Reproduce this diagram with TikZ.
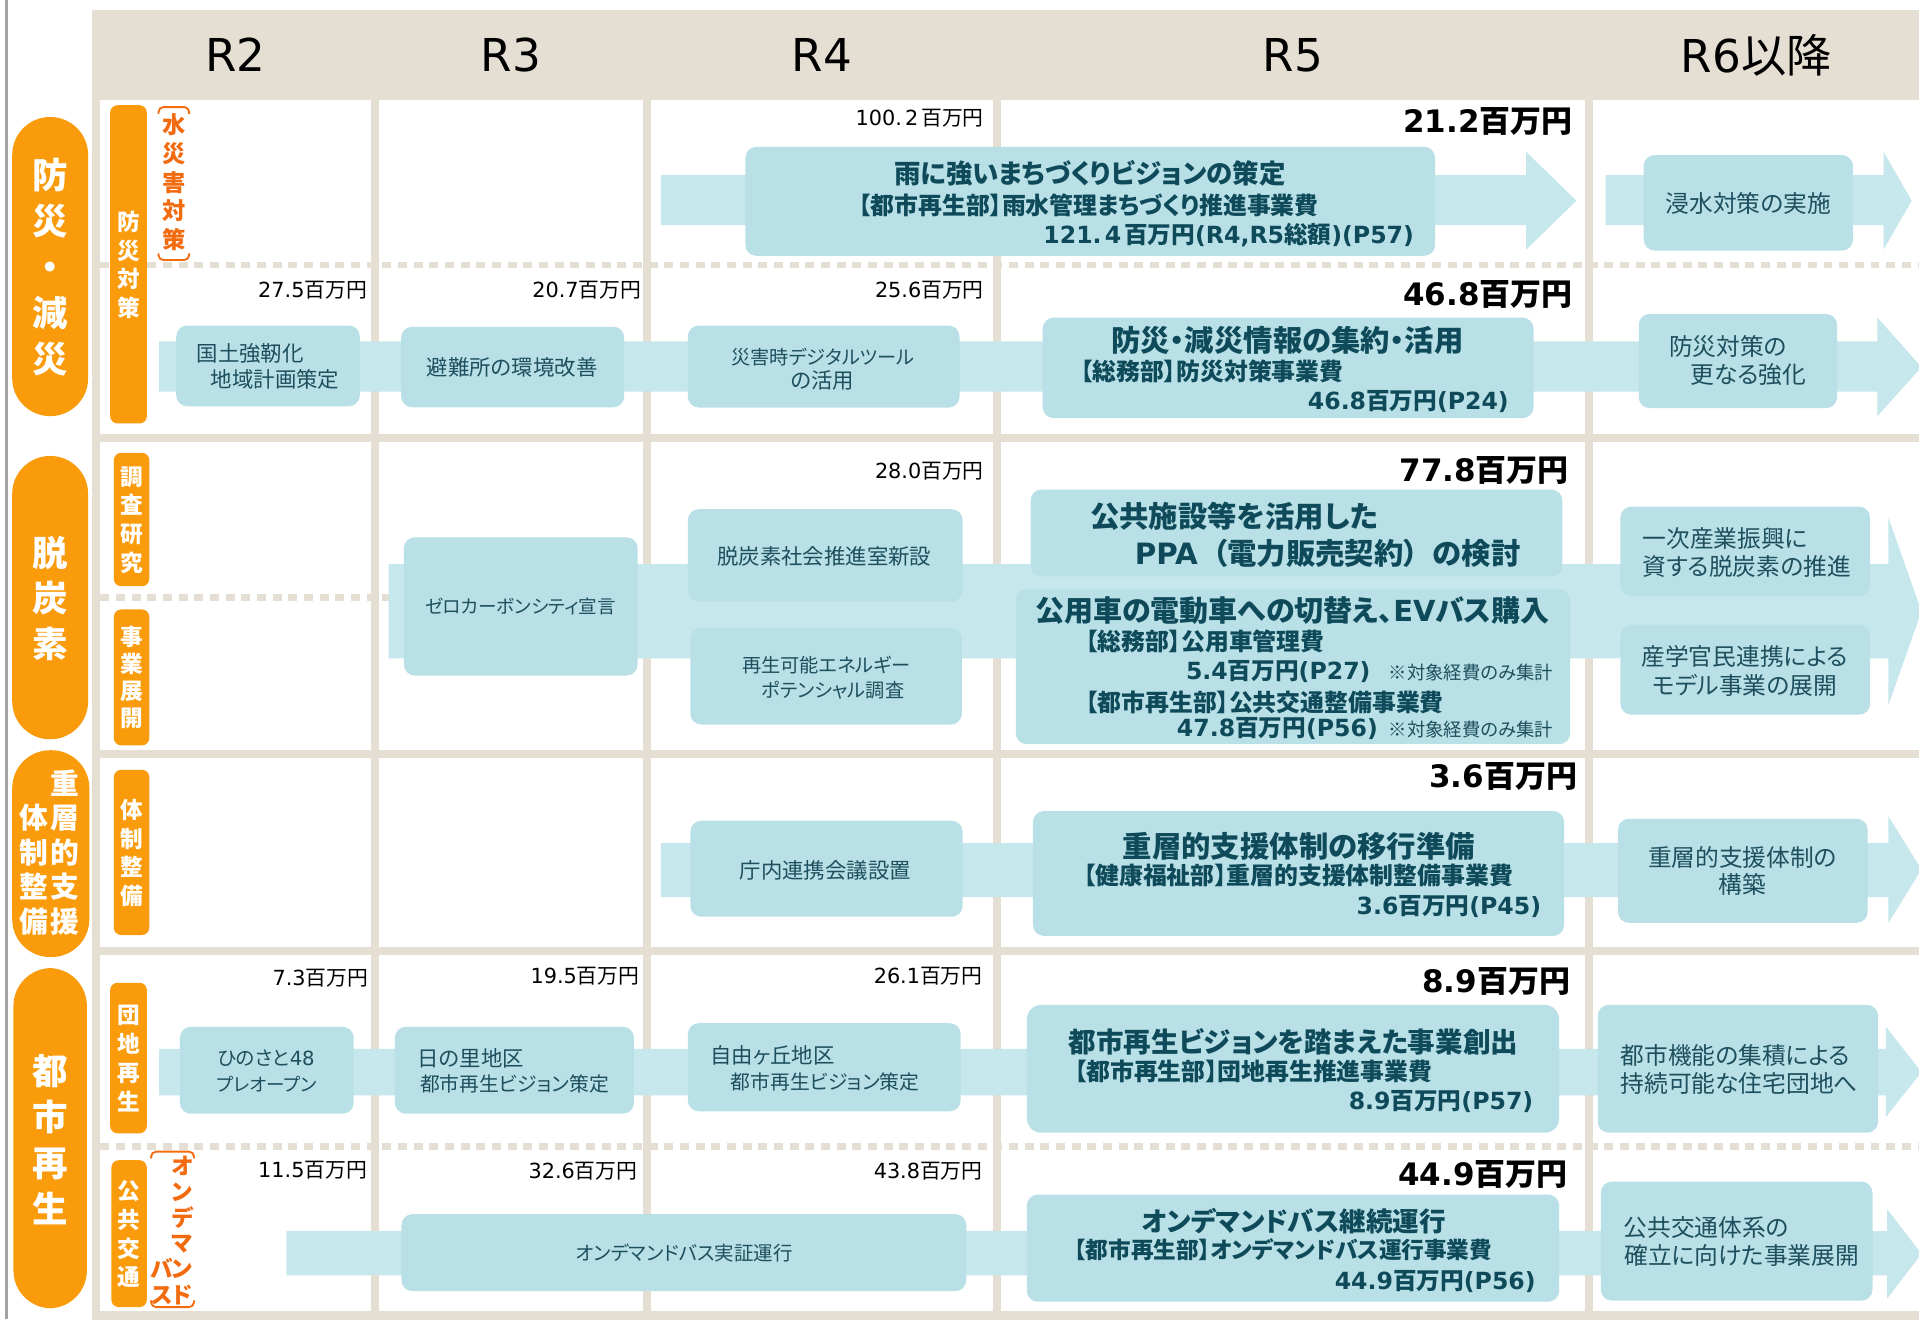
\documentclass[tikz,border=0pt]{standalone}
\usepackage{fontspec}
\setmainfont{Noto Sans CJK JP}[RawFeature=+palt]
\newfontfamily\latf{DejaVu Sans}
\newcommand\LT[1]{{\latf #1}}
\newcommand\myfs[2]{\fontsize{#1}{#2}\selectfont}
\definecolor{beige}{HTML}{E4DED3}
\definecolor{orng}{HTML}{FA9B0C}
\definecolor{orng2}{HTML}{F26B0F}
\definecolor{boxc}{HTML}{B8E0E6}
\definecolor{bandc}{HTML}{C6E7EC}
\definecolor{tealdk}{HTML}{0E4A5A}
\definecolor{tealmd}{HTML}{1E4F5E}
\definecolor{lgray}{HTML}{A3A3A3}
\begin{document}
\begin{tikzpicture}[x=1pt,y=-1pt,
  box/.style={fill=boxc, rounded corners=9pt, inner sep=0pt, draw=none},
  band/.style={fill=bandc},
  pill/.style={fill=orng, rounded corners=30.9pt, inner sep=0pt, minimum width=62pt},
  tag/.style={fill=orng, rounded corners=6pt, inner sep=0pt},
  pilltxt/.style={text=white, font=\bfseries\myfs{29}{37.5}, align=center, inner sep=0pt},
  pilltxtb/.style={text=white, font=\bfseries\myfs{23.5}{28.3}, align=center, inner sep=0pt},
  tagtxt/.style={text=white, font=\bfseries\myfs{18.5}{23.5}, align=center, inner sep=0pt},
  otxt/.style={text=orng2, font=\bfseries\myfs{19}{23.5}, align=center, inner sep=0pt},
  brk/.style={draw=orng2, line width=1.5pt, rounded corners=4pt},
  hdr/.style={inner sep=0pt, font=\latf\myfs{37}{40}, text=black},
  amt/.style={anchor=east, inner sep=0pt, text=black, font=\myfs{17}{20}},
  big/.style={anchor=east, inner sep=0pt, text=black, font=\bfseries\myfs{25.3}{30}},
  ttl/.style={inner sep=0pt, text=tealdk, font=\bfseries\myfs{24}{28}},
  dept/.style={anchor=west, inner sep=0pt, text=tealdk, font=\bfseries\myfs{19.5}{23}},
  money/.style={anchor=east, inner sep=0pt, text=tealdk, font=\bfseries\myfs{19.3}{23}},
  note/.style={anchor=west, inner sep=0pt, text=tealmd, font=\myfs{15}{18}},
  btx/.style={inner sep=0pt, text=tealmd, font=\myfs{17.5}{21}},
  btk/.style={btx, font=\myfs{15.7}{21}},
  rtx/.style={inner sep=0pt, text=tealmd, font=\myfs{19.4}{23}},
  dotl/.style={draw=beige, line width=5.5pt, dash pattern=on 7.3pt off 5.5pt}
]
\useasboundingbox (0,0) rectangle (1568,1078);
\clip (0,0) rectangle (1568,1078);
\fill[white] (0,0) rectangle (1568,1078);
\draw[lgray, line width=2.5pt] (5.5,0) -- (5.5,1078);
% grid
\fill[beige] (75.5,8) rectangle (1570,1080);
\foreach \xa/\xb in {82/303,309.5/525.5,532/811,818/1295,1302/1570}{
  \foreach \ya/\yb in {82/354.6,361/613,619.6/774,780/1071}{
    \fill[white] (\xa,\ya) rectangle (\xb,\yb);
  }
}
\draw[dotl] (82,216.5) -- (1568,216.5);
\draw[dotl] (82,488) -- (318,488);
\draw[dotl] (82,936.5) -- (1568,936.5);
% header
\node[hdr] (h2) at (192.5,45) {R2};
\node[hdr] (h3) at (417.5,45) {R3};
\node[hdr] (h4) at (671.5,45) {R4};
\node[hdr] (h5) at (1056.5,45) {R5};
\node[hdr] (h6) at (1435,45) {R6{\rmfamily 以降}};
% category pills
\node[pill, minimum height=244.4pt] (p1) at (41,217.8) {};
\node[pilltxt] (p1t) at (41,218) {防\\災\\・\\減\\災};
\node[pill, minimum height=231.5pt] (p2) at (41,488.3) {};
\node[pilltxt] (p2t) at (41,489) {脱\\炭\\素};
\node[pill, minimum height=169pt, minimum width=63pt] (p3) at (41.5,697.5) {};
\node[pilltxtb] (p3r) at (53,696.5) {重\\層\\的\\支\\援};
\node[pilltxtb] (p3l) at (28,710.5) {体\\制\\整\\備};
\node[pill, minimum height=278pt, minimum width=60pt] (p4) at (41,930) {};
\node[pilltxt] (p4t) at (41,931) {都\\市\\再\\生};
% sub tags
\node[tag, minimum width=30pt, minimum height=260pt] (t1) at (105,216) {};
\node[tagtxt] (t1t) at (105,216.5) {防\\災\\対\\策};
\node[tag, minimum width=29pt, minimum height=109pt] (t2) at (107.5,424.5) {};
\node[tagtxt] (t2t) at (107.5,425) {調\\査\\研\\究};
\node[tag, minimum width=29pt, minimum height=111pt] (t3) at (107.5,553.5) {};
\node[tagtxt, font=\bfseries\myfs{18.5}{22}] (t3t) at (107.5,553.5) {事\\業\\展\\開};
\node[tag, minimum width=29pt, minimum height=135pt] (t4) at (107.5,696.5) {};
\node[tagtxt] (t4t) at (107.5,697) {体\\制\\整\\備};
\node[tag, minimum width=30pt, minimum height=123pt] (t5) at (105,864.5) {};
\node[tagtxt] (t5t) at (105,865) {団\\地\\再\\生};
\node[tag, minimum width=29pt, minimum height=120pt] (t6) at (105.5,1008) {};
\node[tagtxt] (t6t) at (105.5,1008.5) {公\\共\\交\\通};
% orange side labels
\node[otxt] (o1) at (142,149) {水\\災\\害\\対\\策};
\draw[brk] (129.5,93) -- (129.5,87.5) -- (154.5,87.5) -- (154.5,93);
\draw[brk] (129.5,207) -- (129.5,212.5) -- (154.5,212.5) -- (154.5,207);
\node[otxt, font=\bfseries\myfs{18.5}{21}] (o2r) at (149,1005.5) {オ\\ン\\デ\\マ\\ン\\ド};
\node[otxt, font=\bfseries\myfs{18.5}{22}] (o2l) at (132.5,1047) {バ\\ス};
\draw[brk] (123.5,946.5) -- (123.5,941) -- (158.5,941) -- (158.5,946.5);
\draw[brk] (123.5,1062.5) -- (123.5,1068) -- (158.5,1068) -- (158.5,1062.5);
% bands
\fill[band] (540,143) -- (1247,143) -- (1247,124) -- (1288,164) -- (1247,204) -- (1247,184) -- (540,184) -- cycle;
\fill[band] (1312,143) -- (1539,143) -- (1539,124) -- (1562,164) -- (1539,204) -- (1539,184) -- (1312,184) -- cycle;
\fill[band] (130,279) -- (1534,279) -- (1534,259.5) -- (1570,300) -- (1534,340) -- (1534,320) -- (130,320) -- cycle;
\fill[band] (317.5,461) -- (1543,461) -- (1543,423) -- (1570,499.5) -- (1543,576) -- (1543,538) -- (317.5,538) -- cycle;
\fill[band] (540,689) -- (1543,689) -- (1543,667) -- (1570,710.5) -- (1543,754) -- (1543,733) -- (540,733) -- cycle;
\fill[band] (130,857) -- (1541,857) -- (1541,839) -- (1570,876) -- (1541,912.5) -- (1541,895) -- (130,895) -- cycle;
\fill[band] (234,1006) -- (1542,1006) -- (1542,988) -- (1570,1024.5) -- (1542,1061) -- (1542,1042) -- (234,1042) -- cycle;
% boxes
\node[box, minimum width=563.6pt, minimum height=89pt] (b1a) at (890.8,164.5) {};
\node[box, minimum width=171pt, minimum height=78pt] (b1b) at (1428.5,165.7) {};
\node[box, minimum width=150pt, minimum height=66pt] (b2a) at (219,299) {};
\node[box, minimum width=182.3pt, minimum height=65.8pt] (b2b) at (418.9,299.9) {};
\node[box, minimum width=222pt, minimum height=67pt] (b2c) at (673,299.5) {};
\node[box, minimum width=401pt, minimum height=82.2pt] (b2d) at (1052.5,300.6) {};
\node[box, minimum width=162pt, minimum height=77pt] (b2e) at (1420,295) {};
\node[box, minimum width=191pt, minimum height=113pt] (b3a) at (425.5,495.5) {};
\node[box, minimum width=224.5pt, minimum height=75.5pt] (b3b) at (674.3,453.8) {};
\node[box, minimum width=222pt, minimum height=79pt] (b3c) at (675,552.5) {};
\node[box, minimum width=434.5pt, minimum height=71pt] (b3d) at (1059.3,435.5) {};
\node[box, minimum width=453pt, minimum height=126.5pt] (b3e) at (1056.5,544.8) {};
\node[box, minimum width=204pt, minimum height=73pt] (b3f) at (1426,450.5) {};
\node[box, minimum width=204pt, minimum height=73.4pt] (b3g) at (1426,547.3) {};
\node[box, minimum width=222.5pt, minimum height=78.5pt] (b4a) at (675.3,709.8) {};
\node[box, minimum width=434pt, minimum height=102pt] (b4b) at (1061,713.7) {};
\node[box, minimum width=204pt, minimum height=85pt] (b4c) at (1424,711.5) {};
\node[box, minimum width=142pt, minimum height=71pt] (b5a) at (218,874.5) {};
\node[box, minimum width=195.4pt, minimum height=71pt] (b5b) at (420.3,874.5) {};
\node[box, minimum width=223pt, minimum height=72pt] (b5c) at (673.5,872) {};
\node[box, rounded corners=12pt, minimum width=435pt, minimum height=104.5pt] (b5d) at (1056.5,873.3) {};
\node[box, minimum width=229pt, minimum height=104.5pt] (b5e) at (1420,873.3) {};
\node[box, minimum width=461.5pt, minimum height=63pt] (b6a) at (558.8,1023.5) {};
\node[box, minimum width=435pt, minimum height=87.5pt] (b6b) at (1056.5,1019.8) {};
\node[box, minimum width=222pt, minimum height=97.2pt] (b6c) at (1419,1014.1) {};
% amounts
\node[amt] (a1r4) at (804,96.6) {\LT{100.\hspace{2.5pt}2}\hspace{2.5pt}百万円};
\node[big] (a1r5) at (1285,99.4) {\LT{21.2}百万円};
\node[amt] (a2r2) at (300,237) {\LT{27.5}百万円};
\node[amt] (a2r3) at (524,237) {\LT{20.7}百万円};
\node[amt] (a2r4) at (804,237) {\LT{25.6}百万円};
\node[big] (a2r5) at (1285,241) {\LT{46.8}百万円};
\node[amt] (a3r4) at (804,384.6) {\LT{28.0}百万円};
\node[big] (a3r5) at (1282,384.6) {\LT{77.8}百万円};
\node[big] (a4r5) at (1288.8,634.5) {\LT{3.6}百万円};
\node[amt] (a5r2) at (301,799.3) {\LT{7.3}百万円};
\node[amt] (a5r3) at (522.6,797.4) {\LT{19.5}百万円};
\node[amt] (a5r4) at (803,797.4) {\LT{26.1}百万円};
\node[big] (a5r5) at (1283,802) {\LT{8.9}百万円};
\node[amt] (a6r2) at (300,956.5) {\LT{11.5}百万円};
\node[amt] (a6r3) at (521,957) {\LT{32.6}百万円};
\node[amt] (a6r4) at (803,957) {\LT{43.8}百万円};
\node[big] (a6r5) at (1281,960) {\LT{44.9}百万円};
% row 1 texts
\node[ttl, font=\bfseries\myfs{21.6}{26}] (x1a) at (890.5,141.5) {雨に強いまちづくりビジョンの策定};
\node[dept, anchor=center] (x1b) at (889.6,167.5) {【都市再生部】雨水管理まちづくり推進事業費};
\node[money] (x1c) at (1155.5,192) {\LT{121.\hspace{2.5pt}4}\hspace{2.5pt}百万円\LT{(R4,R5}総額\LT{)(P57)}};
\node[rtx] (x1d) at (1428.5,166) {浸水対策の実施};
% row 2 texts
\node[btx, anchor=west] (x2a) at (160.5,289) {国土強靭化};
\node[btx, anchor=west] (x2b) at (172,310) {地域計画策定};
\node[btx] (x2c) at (418.5,300) {避難所の環境改善};
\node[btk] (x2d) at (672.3,291.4) {災害時デジタルツール};
\node[btx] (x2e) at (672,310.5) {の活用};
\node[ttl] (x2f) at (1052,278) {防災・減災情報の集約・活用};
\node[dept] (x2g) at (883,303.7) {【総務部】防災対策事業費};
\node[money] (x2h) at (1233,328) {\LT{46.8}百万円\LT{(P24)}};
\node[rtx, anchor=west] (x2i) at (1363.6,283) {防災対策の};
\node[rtx, anchor=west] (x2j) at (1381,306) {更なる強化};
% row 3 texts
\node[btk, font=\myfs{15.2}{21}] (x3a) at (425.3,495.7) {ゼロカーボンシティ宣言};
\node[btx] (x3b) at (673.5,455) {脱炭素社会推進室新設};
\node[btk] (x3c) at (675.3,543.3) {再生可能エネルギー};
\node[btk] (x3d) at (680.5,563.7) {ポテンシャル調査};
\node[ttl, anchor=west] (x3e) at (890.5,422) {公共施設等を活用した};
\node[ttl, anchor=west] (x3f) at (927,452) {\LT{PPA}\hspace{.5em}（電力販売契約）\hspace{.5em}の検討};
\node[ttl, font=\bfseries\myfs{23.7}{28}] (x3g) at (1056,499) {公用車の電動車への切替え、\LT{EV}バス購入};
\node[dept] (x3h) at (887,524) {【総務部】公用車管理費};
\node[money] (x3i) at (1120,548.8) {\LT{5.4}百万円\LT{(P27)}};
\node[note] (x3j) at (1134.6,549.5) {※対象経費のみ集計};
\node[dept] (x3k) at (887,574) {【都市再生部】公共交通整備事業費};
\node[money] (x3l) at (1126,595.6) {\LT{47.8}百万円\LT{(P56)}};
\node[note] (x3m) at (1134.6,596.4) {※対象経費のみ集計};
\node[rtx, anchor=west] (x3n) at (1342,439.7) {一次産業振興に};
\node[rtx, anchor=west] (x3o) at (1342,463) {資する脱炭素の推進};
\node[rtx] (x3p) at (1425.5,536.5) {産学官民連携による};
\node[rtx] (x3q) at (1425.5,559.6) {モデル事業の展開};
% row 4 texts
\node[btx] (x4a) at (674.3,711.6) {庁内連携会議設置};
\node[ttl] (x4b) at (1061.3,691.7) {重層的支援体制の移行準備};
\node[dept] (x4c) at (885,715) {【健康福祉部】重層的支援体制整備事業費};
\node[money] (x4d) at (1259.4,740.8) {\LT{3.6}百万円\LT{(P45)}};
\node[rtx] (x4e) at (1423.8,701) {重層的支援体制の};
\node[rtx] (x4f) at (1423.6,723) {構築};
% row 5 texts
\node[btk, font=\myfs{16}{21}] (x5a) at (217.5,864.6) {ひのさと\LT{48}};
\node[btk, font=\myfs{15}{21}] (x5b) at (218,885.6) {プレオープン};
\node[btx, anchor=west] (x5c) at (341,864.6) {日の里地区};
\node[btk, font=\myfs{16.2}{21}, anchor=west] (x5d) at (343,885.6) {都市再生ビジョン策定};
\node[btx, anchor=west] (x5e) at (580,862) {自由ヶ丘地区};
\node[btk, font=\myfs{16.2}{21}, anchor=west] (x5f) at (596.7,883.7) {都市再生ビジョン策定};
\node[ttl, font=\bfseries\myfs{22.5}{27}, anchor=west] (x5g) at (873,851) {都市再生ビジョンを踏まえた事業創出};
\node[dept] (x5h) at (877.7,875.6) {【都市再生部】団地再生推進事業費};
\node[money] (x5i) at (1253,900) {\LT{8.9}百万円\LT{(P57)}};
\node[rtx, anchor=west] (x5j) at (1324,862) {都市機能の集積による};
\node[rtx, anchor=west] (x5k) at (1324,885.6) {持続可能な住宅団地へ};
% row 6 texts
\node[btk, font=\myfs{15.9}{21}] (x6a) at (559,1024) {オンデマンドバス実証運行};
\node[ttl, font=\bfseries\myfs{21.7}{26}, anchor=west] (x6b) at (932.5,998) {オンデマンドバス継続運行};
\node[dept, font=\bfseries\myfs{18.5}{22}] (x6c) at (877.7,1021) {【都市再生部】オンデマンドバス運行事業費};
\node[money] (x6d) at (1255,1047) {\LT{44.9}百万円\LT{(P56)}};
\node[rtx, anchor=west] (x6e) at (1326.5,1002.6) {公共交通体系の};
\node[rtx, anchor=west] (x6f) at (1327,1025.5) {確立に向けた事業展開};
\end{tikzpicture}
\end{document}
